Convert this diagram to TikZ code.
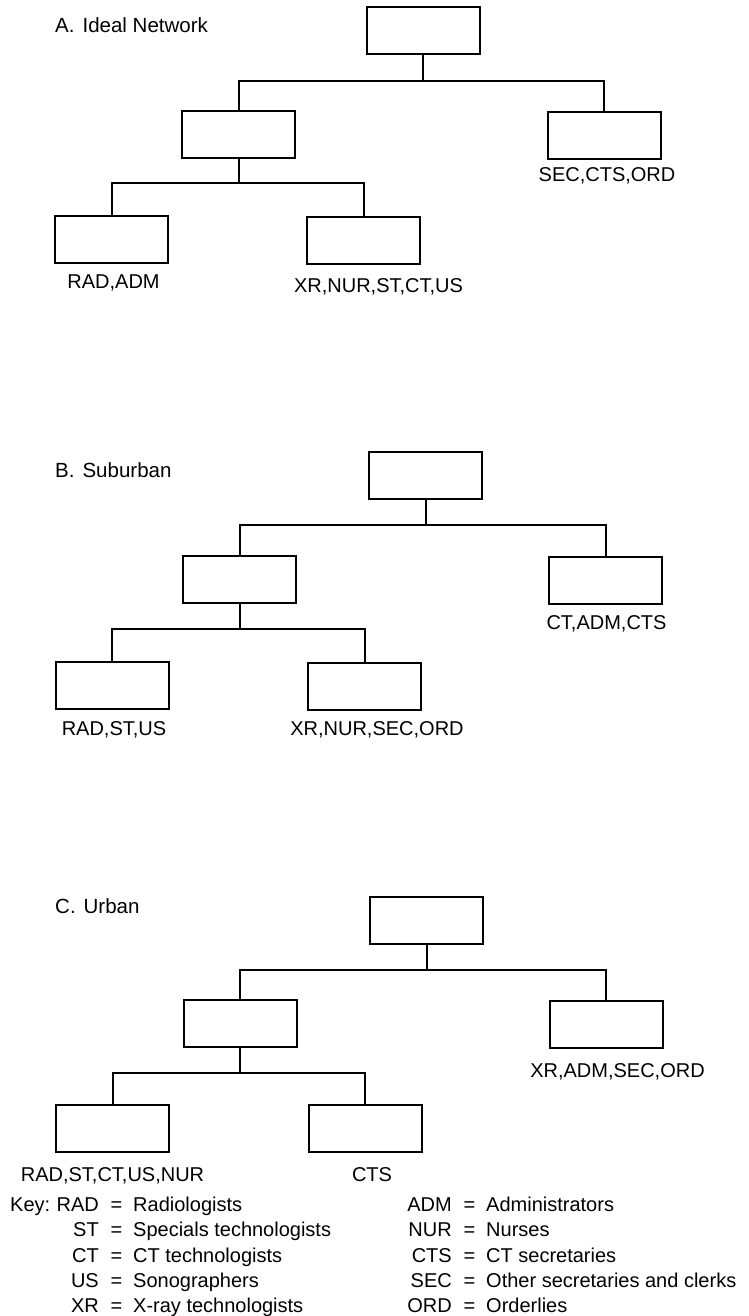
\documentclass[tikz,border=0pt]{standalone}
\usepackage{fontspec}
\setmainfont{Liberation Sans}
\begin{document}
\begin{tikzpicture}[x=1pt,y=-1pt,
  box/.style={draw,line width=2pt,minimum width=113pt,minimum height=47pt,inner sep=0pt},
  conn/.style={line width=2pt},
  lab/.style={anchor=base,inner sep=0pt,font=\fontsize{20}{24}\selectfont},
  ttl/.style={anchor=base west,inner sep=0pt,font=\fontsize{20.5}{24}\selectfont},
  kab/.style={anchor=base east,inner sep=0pt,font=\fontsize{20}{24}\selectfont},
  keq/.style={anchor=base,inner sep=0pt,font=\fontsize{20}{24}\selectfont},
  kdf/.style={anchor=base west,inner sep=0pt,font=\fontsize{20}{24}\selectfont}]
\useasboundingbox (0,0) rectangle (748,1316);
\fill[white] (0,0) rectangle (748,1316);

% ---------- A ----------
\node[ttl] (Atitle) at (55,33) {A.\hspace{8pt}Ideal Network};
\node[box] (Atop) at (423,30.5) {};
\node[box] (Amid) at (238.5,134.5) {};
\node[box] (Aright) at (604,135.5) {};
\node[box] (Abl) at (111.5,239.5) {};
\node[box] (Abm) at (363.5,240.5) {};
\coordinate (Aj) at (423,81);
\coordinate (Ak) at (238.5,183);
\draw[conn] (Atop.south) -- (Aj);
\draw[conn] (Amid.north) |- (Aj) -| (Aright.north);
\draw[conn] (Amid.south) -- (Ak);
\draw[conn] (Abl.north) |- (Ak) -| (Abm.north);
\node[lab] (Alr) at (607,182) {SEC,CTS,ORD};
\node[lab] (Albl) at (113.5,288) {RAD,ADM};
\node[lab] (Albm) at (378.5,292) {XR,NUR,ST,CT,US};

% ---------- B ----------
\node[ttl] (Btitle) at (55,477) {B.\hspace{8pt}Suburban};
\node[box] (Btop) at (425.5,475.5) {};
\node[box] (Bmid) at (239.5,579) {};
\node[box] (Bright) at (605.5,580) {};
\node[box] (Bbl) at (112,685.5) {};
\node[box] (Bbm) at (364.5,686.5) {};
\coordinate (Bj) at (425.5,525);
\coordinate (Bk) at (239.5,629);
\draw[conn] (Btop.south) -- (Bj);
\draw[conn] (Bmid.north) |- (Bj) -| (Bright.north);
\draw[conn] (Bmid.south) -- (Bk);
\draw[conn] (Bbl.north) |- (Bk) -| (Bbm.north);
\node[lab] (Blr) at (606.5,629) {CT,ADM,CTS};
\node[lab] (Blbl) at (114,735) {RAD,ST,US};
\node[lab] (Blbm) at (377,735) {XR,NUR,SEC,ORD};

% ---------- C ----------
\node[ttl] (Ctitle) at (55,913) {C.\hspace{8pt}Urban};
\node[box] (Ctop) at (426.5,920) {};
\node[box] (Cmid) at (240,1023.5) {};
\node[box] (Cright) at (606,1024.5) {};
\node[box] (Cbl) at (112.5,1128.5) {};
\node[box] (Cbm) at (365,1128.5) {};
\coordinate (Cj) at (426.5,970);
\coordinate (Ck) at (240,1073);
\draw[conn] (Ctop.south) -- (Cj);
\draw[conn] (Cmid.north) |- (Cj) -| (Cright.north);
\draw[conn] (Cmid.south) -- (Ck);
\draw[conn] (Cbl.north) |- (Ck) -| (Cbm.north);
\node[lab] (Clr) at (617.5,1077) {XR,ADM,SEC,ORD};
\node[lab] (Clbl) at (112.5,1181) {RAD,ST,CT,US,NUR};
\node[lab] (Clbm) at (372,1181) {CTS};

% ---------- Key ----------
\node[kdf] (keyw) at (10,1211) {Key:};
\node[kab] (k1a) at (99,1211) {RAD}; \node[keq] (k1e) at (116.5,1211) {=}; \node[kdf] (k1d) at (133,1211) {Radiologists};
\node[kab] (k2a) at (99,1236.5) {ST};  \node[keq] (k2e) at (116.5,1236.5) {=}; \node[kdf] (k2d) at (133,1236.5) {Specials technologists};
\node[kab] (k3a) at (99,1262) {CT};  \node[keq] (k3e) at (116.5,1262) {=}; \node[kdf] (k3d) at (133,1262) {CT technologists};
\node[kab] (k4a) at (99,1287.5) {US};  \node[keq] (k4e) at (116.5,1287.5) {=}; \node[kdf] (k4d) at (133,1287.5) {Sonographers};
\node[kab] (k5a) at (99,1312.5) {XR};  \node[keq] (k5e) at (116.5,1312.5) {=}; \node[kdf] (k5d) at (133,1312.5) {X-ray technologists};

\node[kab] (m1a) at (452,1211) {ADM}; \node[keq] (m1e) at (469.5,1211) {=}; \node[kdf] (m1d) at (486,1211) {Administrators};
\node[kab] (m2a) at (452,1236.5) {NUR}; \node[keq] (m2e) at (469.5,1236.5) {=}; \node[kdf] (m2d) at (486,1236.5) {Nurses};
\node[kab] (m3a) at (452,1262) {CTS}; \node[keq] (m3e) at (469.5,1262) {=}; \node[kdf] (m3d) at (486,1262) {CT secretaries};
\node[kab] (m4a) at (452,1287.5) {SEC}; \node[keq] (m4e) at (469.5,1287.5) {=}; \node[kdf] (m4d) at (486,1287.5) {Other secretaries and clerks};
\node[kab] (m5a) at (452,1312.5) {ORD}; \node[keq] (m5e) at (469.5,1312.5) {=}; \node[kdf] (m5d) at (486,1312.5) {Orderlies};
\end{tikzpicture}
\end{document}
